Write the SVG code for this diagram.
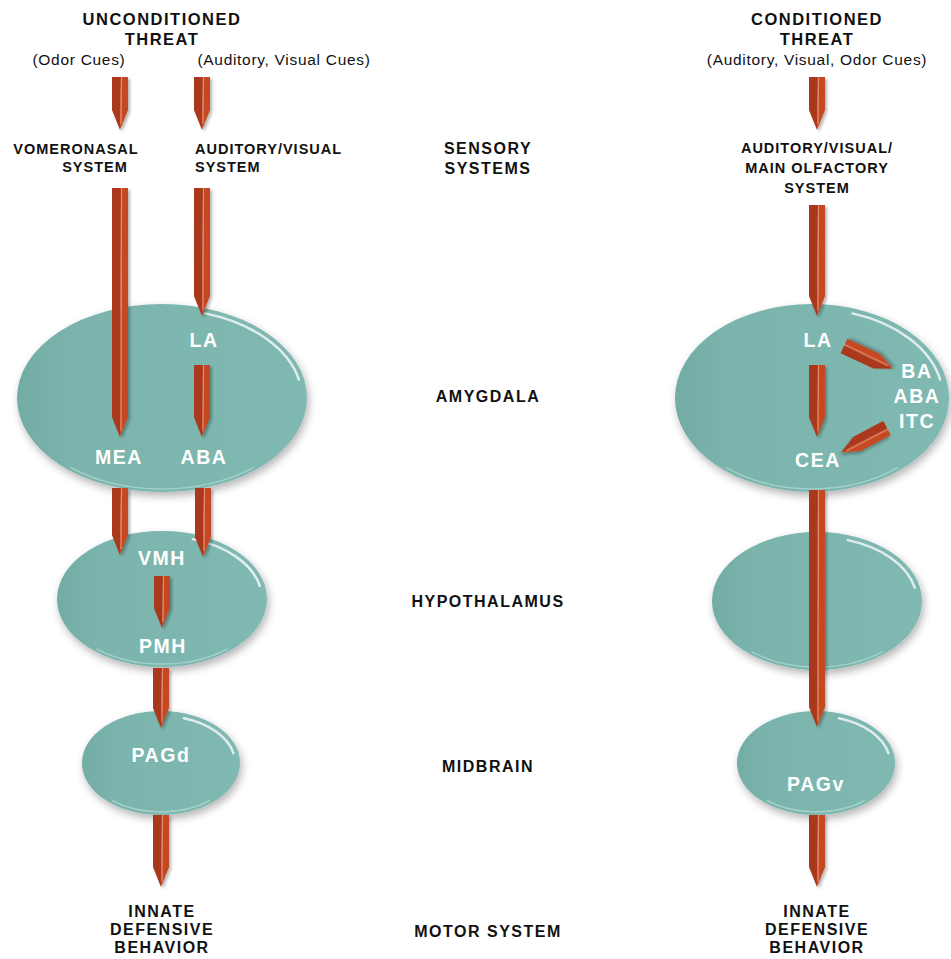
<svg xmlns="http://www.w3.org/2000/svg" width="951" height="959" viewBox="0 0 951 959">
<defs>
<linearGradient id="teal" x1="0" y1="0" x2="1" y2="0">
<stop offset="0" stop-color="#72aca4"/>
<stop offset="0.2" stop-color="#7ab4ac"/>
<stop offset="1" stop-color="#80b9b1"/>
</linearGradient>
<filter id="sh" x="-20%" y="-20%" width="140%" height="150%">
<feGaussianBlur in="SourceAlpha" stdDeviation="4"/>
<feOffset dx="2" dy="4" result="b"/>
<feComponentTransfer><feFuncA type="linear" slope="0.3"/></feComponentTransfer>
<feMerge><feMergeNode/><feMergeNode in="SourceGraphic"/></feMerge>
</filter>
<filter id="ash" x="-60%" y="-10%" width="220%" height="130%">
<feGaussianBlur in="SourceAlpha" stdDeviation="1.5"/>
<feOffset dx="2" dy="2"/>
<feComponentTransfer><feFuncA type="linear" slope="0.3"/></feComponentTransfer>
<feMerge><feMergeNode/><feMergeNode in="SourceGraphic"/></feMerge>
</filter>
</defs>
<style>
.ell{fill:url(#teal);filter:url(#sh)}
.hl{fill:none;stroke:#ffffff;stroke-width:2.5;stroke-linecap:round;opacity:0.75}
.rim{fill:none;stroke:#b4dcd5;stroke-width:1.5;opacity:0.7}
.arr{filter:url(#ash)}
.al{fill:#a9391a}
.ar{fill:#c44a22}
.as{stroke:#e8896a;stroke-width:1.2}
.t{font-family:"Liberation Sans",Arial,sans-serif;font-weight:bold;fill:#111111;text-anchor:middle}
.big{font-size:16.5px;letter-spacing:1.5px}
.mid{font-size:14.5px;letter-spacing:1px}
.sec{font-size:16px;letter-spacing:1.5px}
.par{font-family:"Liberation Sans",Arial,sans-serif;font-size:15.5px;fill:#111111;text-anchor:middle;letter-spacing:0.7px}
.w{font-family:"Liberation Sans",Arial,sans-serif;font-weight:bold;font-size:19.5px;letter-spacing:1.6px;fill:#ffffff;text-anchor:middle}
</style>
<rect width="951" height="959" fill="#ffffff"/>

<g id="unconditioned-threat">
<text class="t big" x="162" y="25">UNCONDITIONED</text>
<text class="t big" x="162" y="45">THREAT</text>
<text class="par" x="79" y="65">(Odor Cues)</text>
<text class="par" x="284" y="65">(Auditory, Visual Cues)</text>
</g>
<g id="conditioned-threat">
<text class="t big" x="817" y="25">CONDITIONED</text>
<text class="t big" x="817" y="45">THREAT</text>
<text class="par" x="817" y="65">(Auditory, Visual, Odor Cues)</text>
</g>
<g id="vomeronasal">
<text class="t mid" x="76" y="154">VOMERONASAL</text>
<text class="t mid" x="95" y="172">SYSTEM</text>
</g>
<g id="auditory-visual">
<text class="t mid" x="195" y="154" style="text-anchor:start">AUDITORY/VISUAL</text>
<text class="t mid" x="195" y="172" style="text-anchor:start">SYSTEM</text>
</g>
<g id="auditory-visual-olfactory">
<text class="t mid" x="817" y="153">AUDITORY/VISUAL/</text>
<text class="t mid" x="817" y="173">MAIN OLFACTORY</text>
<text class="t mid" x="817" y="193">SYSTEM</text>
</g>
<g id="level-labels">
<text class="t sec" x="488" y="154">SENSORY</text>
<text class="t sec" x="488" y="174">SYSTEMS</text>
<text class="t sec" x="488" y="402">AMYGDALA</text>
<text class="t sec" x="488" y="607">HYPOTHALAMUS</text>
<text class="t sec" x="488" y="772">MIDBRAIN</text>
<text class="t sec" x="488" y="937">MOTOR SYSTEM</text>
</g>

<g id="amygdala-left">
<ellipse class="ell" cx="162" cy="398" rx="145" ry="94"/>
<path class="hl" d="M205.3,313.4 A140,89 0 0 1 298.9,379.5"/>
<path class="rim" d="M253.3,467.7 A142,91 0 0 1 70.7,467.7"/>
</g>
<g id="amygdala-right">
<ellipse class="ell" cx="812" cy="398" rx="137" ry="94"/>
<path class="hl" d="M852.5,313.4 A131,89 0 0 1 940.1,379.5"/>
<path class="rim" d="M897.5,467.7 A133,91 0 0 1 726.5,467.7"/>
</g>
<g id="hypothalamus-left">
<ellipse class="ell" cx="162" cy="599" rx="105" ry="68"/>
<path class="hl" d="M192.9,539.1 A100,63 0 0 1 259.8,585.9"/>
<path class="rim" d="M227.6,648.8 A102,65 0 0 1 96.4,648.8"/>
</g>
<g id="hypothalamus-right">
<ellipse class="ell" cx="817" cy="601" rx="105" ry="69"/>
<path class="hl" d="M847.9,540.1 A100,64 0 0 1 914.8,587.7"/>
<path class="rim" d="M882.6,651.6 A102,66 0 0 1 751.4,651.6"/>
</g>
<g id="pagd">
<ellipse class="ell" cx="161" cy="763" rx="79" ry="52"/>
<path class="hl" d="M183.9,718.3 A74,47 0 0 1 233.4,753.2"/>
<path class="rim" d="M209.9,800.5 A76,49 0 0 1 112.1,800.5"/>
</g>
<g id="pagv">
<ellipse class="ell" cx="816" cy="763" rx="79" ry="52"/>
<path class="hl" d="M838.9,718.3 A74,47 0 0 1 888.4,753.2"/>
<path class="rim" d="M864.9,800.5 A76,49 0 0 1 767.1,800.5"/>
</g>

<g id="connectors">
<g class="arr" transform="translate(120,77)"><polygon class="al" points="-8,0 1,0 0,53 -8,33"/><polygon class="ar" points="1,0 8,0 8,33 0,53"/><line class="as" x1="1.5" y1="0" x2="1" y2="47"/></g>
<g class="arr" transform="translate(202,77)"><polygon class="al" points="-8,0 1,0 0,53 -8,33"/><polygon class="ar" points="1,0 8,0 8,33 0,53"/><line class="as" x1="1.5" y1="0" x2="1" y2="47"/></g>
<g class="arr" transform="translate(120,188)"><polygon class="al" points="-8,0 1,0 0,249 -8,229"/><polygon class="ar" points="1,0 8,0 8,229 0,249"/><line class="as" x1="1.5" y1="0" x2="1" y2="243"/></g>
<g class="arr" transform="translate(202,188)"><polygon class="al" points="-8,0 1,0 0,128 -8,108"/><polygon class="ar" points="1,0 8,0 8,108 0,128"/><line class="as" x1="1.5" y1="0" x2="1" y2="122"/></g>
<g class="arr" transform="translate(202,365)"><polygon class="al" points="-8,0 1,0 0,72 -8,52"/><polygon class="ar" points="1,0 8,0 8,52 0,72"/><line class="as" x1="1.5" y1="0" x2="1" y2="66"/></g>
<g class="arr" transform="translate(120,488)"><polygon class="al" points="-8,0 1,0 0,67 -8,47"/><polygon class="ar" points="1,0 8,0 8,47 0,67"/><line class="as" x1="1.5" y1="0" x2="1" y2="61"/></g>
<g class="arr" transform="translate(203,488)"><polygon class="al" points="-8,0 1,0 0,69 -8,49"/><polygon class="ar" points="1,0 8,0 8,49 0,69"/><line class="as" x1="1.5" y1="0" x2="1" y2="63"/></g>
<g class="arr" transform="translate(162,576)"><polygon class="al" points="-8,0 1,0 0,52 -8,32"/><polygon class="ar" points="1,0 8,0 8,32 0,52"/><line class="as" x1="1.5" y1="0" x2="1" y2="46"/></g>
<g class="arr" transform="translate(161,668)"><polygon class="al" points="-8,0 1,0 0,60 -8,40"/><polygon class="ar" points="1,0 8,0 8,40 0,60"/><line class="as" x1="1.5" y1="0" x2="1" y2="54"/></g>
<g class="arr" transform="translate(161,815)"><polygon class="al" points="-8,0 1,0 0,72 -8,52"/><polygon class="ar" points="1,0 8,0 8,52 0,72"/><line class="as" x1="1.5" y1="0" x2="1" y2="66"/></g>
<g class="arr" transform="translate(817,77)"><polygon class="al" points="-8,0 1,0 0,53 -8,33"/><polygon class="ar" points="1,0 8,0 8,33 0,53"/><line class="as" x1="1.5" y1="0" x2="1" y2="47"/></g>
<g class="arr" transform="translate(817,205)"><polygon class="al" points="-8,0 1,0 0,111 -8,91"/><polygon class="ar" points="1,0 8,0 8,91 0,111"/><line class="as" x1="1.5" y1="0" x2="1" y2="105"/></g>
<g class="arr" transform="translate(817,365)"><polygon class="al" points="-8,0 1,0 0,72 -8,52"/><polygon class="ar" points="1,0 8,0 8,52 0,72"/><line class="as" x1="1.5" y1="0" x2="1" y2="66"/></g>
<g class="arr" transform="translate(817,490)"><polygon class="al" points="-8,0 1,0 0,237 -8,217"/><polygon class="ar" points="1,0 8,0 8,217 0,237"/><line class="as" x1="1.5" y1="0" x2="1" y2="231"/></g>
<g class="arr" transform="translate(817,815)"><polygon class="al" points="-8,0 1,0 0,72 -8,52"/><polygon class="ar" points="1,0 8,0 8,52 0,72"/><line class="as" x1="1.5" y1="0" x2="1" y2="66"/></g>
<g class="arr" transform="translate(844,346) rotate(-65)"><polygon class="al" points="-8,0 1,0 0,54 -8,36"/><polygon class="ar" points="1,0 8,0 8,36 0,54"/><line class="as" x1="1.5" y1="0" x2="1" y2="48"/></g>
<g class="arr" transform="translate(887,428) rotate(62)"><polygon class="al" points="-8,0 1,0 0,52 -8,34"/><polygon class="ar" points="1,0 8,0 8,34 0,52"/><line class="as" x1="1.5" y1="0" x2="1" y2="46"/></g>
</g>

<g id="labels-inner">
<text class="w" x="204" y="347">LA</text>
<text class="w" x="119" y="464">MEA</text>
<text class="w" x="204" y="464">ABA</text>
<text class="w" x="162" y="565">VMH</text>
<text class="w" x="163" y="653">PMH</text>
<text class="w" x="161" y="762">PAGd</text>
<text class="w" x="818" y="347">LA</text>
<text class="w" x="917" y="378">BA</text>
<text class="w" x="917" y="403">ABA</text>
<text class="w" x="917" y="428">ITC</text>
<text class="w" x="818" y="467">CEA</text>
<text class="w" x="816" y="791">PAGv</text>
</g>

<g id="behavior-left">
<text class="t sec" x="162" y="917">INNATE</text>
<text class="t sec" x="162" y="935">DEFENSIVE</text>
<text class="t sec" x="162" y="953">BEHAVIOR</text>
</g>
<g id="behavior-right">
<text class="t sec" x="817" y="917">INNATE</text>
<text class="t sec" x="817" y="935">DEFENSIVE</text>
<text class="t sec" x="817" y="953">BEHAVIOR</text>
</g>
</svg>
